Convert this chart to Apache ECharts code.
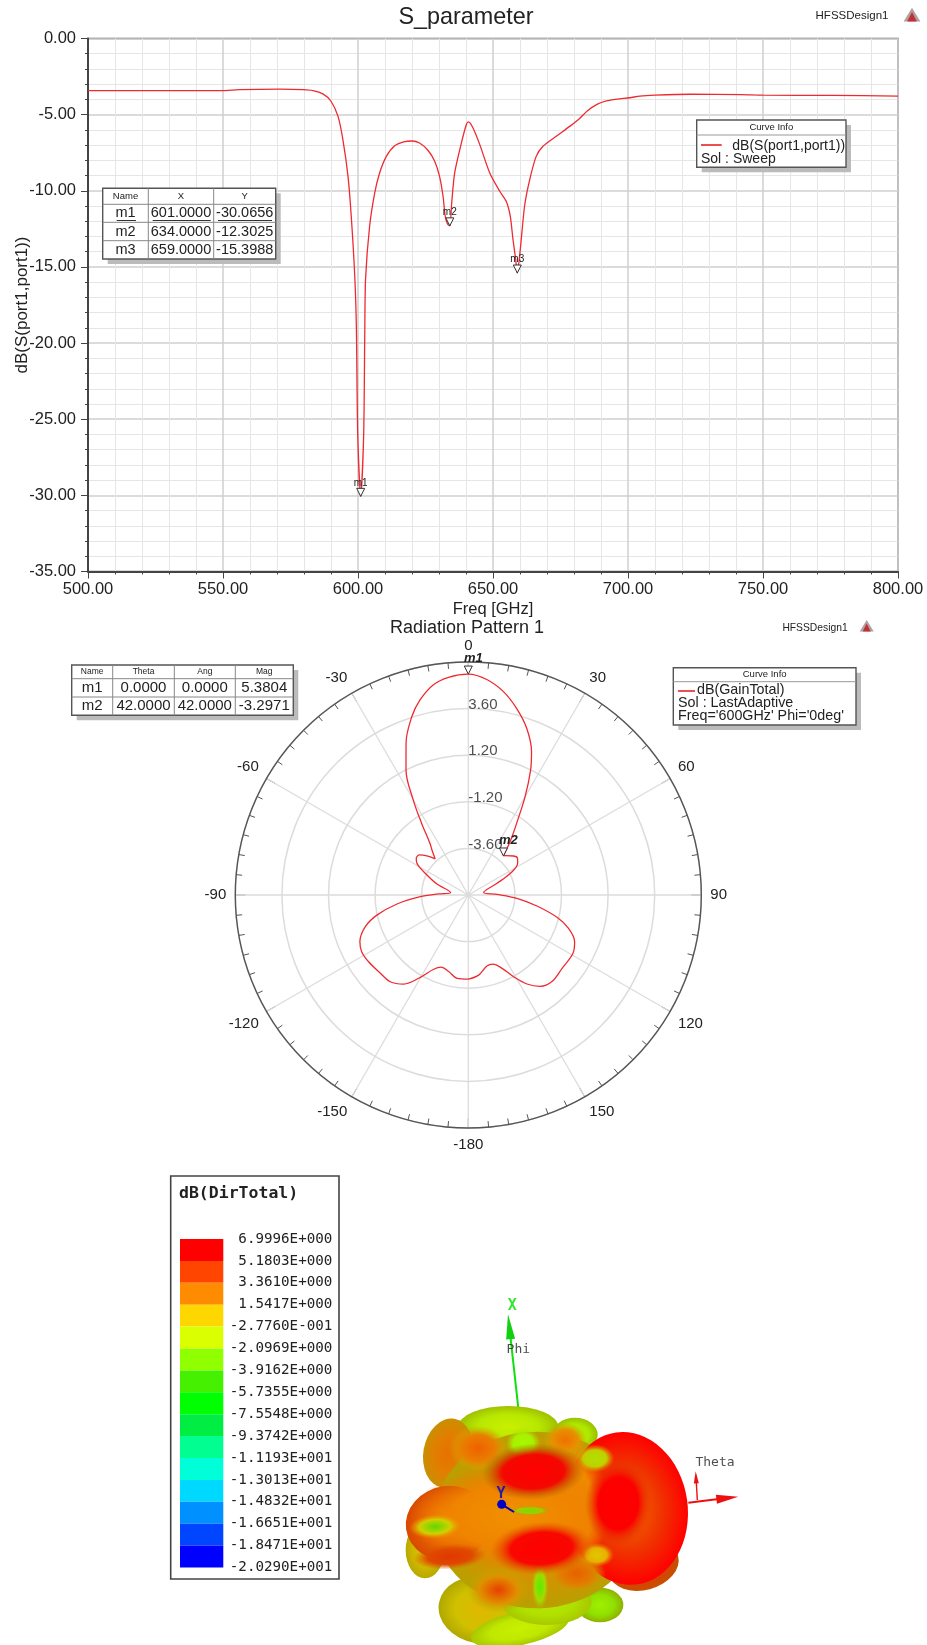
<!DOCTYPE html>
<html><head><meta charset="utf-8">
<style>html,body{margin:0;padding:0;background:#fff}#c{width:927px;height:1645px}</style>
<script src="https://cdn.jsdelivr.net/npm/echarts@6/dist/echarts.min.js"></script>
</head><body><div id="c"></div>
<script>
const sFreq=[500,525,550,556,571,579.6,583.3,587,590,592.6,594.4,596.3,597.5,598.8,599.4,599.9,601,602.1,602.5,602.8,604.3,606.2,608,610.5,613.6,617.3,620.1,622.8,625.9,628.4,630.2,631.5,632.3,633.2,634,634.7,635.8,638.3,640.1,640.9,642.6,645.1,648.8,652.5,654.9,656.4,657.4,658.4,659,660.1,661.7,663.6,666,668.5,673.4,678.4,681.9,685,688.5,692,696,700.7,704.4,710,723,742,750,775.9,800];
const sDb=[-3.42,-3.42,-3.42,-3.36,-3.33,-3.36,-3.42,-3.64,-4.12,-5.11,-6.64,-9.05,-11.67,-15.6,-19,-26,-30.07,-26,-19.5,-15.8,-12.33,-10.14,-8.83,-7.74,-7.04,-6.77,-6.73,-6.86,-7.34,-8.06,-9.05,-10.36,-11.67,-12.2,-12.3,-10.8,-8.83,-6.86,-5.66,-5.48,-5.88,-6.97,-8.83,-10.03,-10.69,-11.67,-13.2,-14.5,-15.4,-13.86,-11,-9.27,-7.74,-7.08,-6.42,-5.77,-5.28,-4.75,-4.33,-4.1,-3.98,-3.89,-3.78,-3.72,-3.66,-3.68,-3.72,-3.74,-3.78];
const sMarkers=[['m1',601,-30.0656],['m2',634,-12.3025],['m3',659,-15.3988]];
const patTheta=[-180,-172.3,-165.6,-159.4,-155,-149.8,-144,-138,-131.7,-123.8,-118,-113.3,-107.1,-102.4,-97.2,-92,-88,-82,-70.7,-63.3,-58.3,-54.8,-50.6,-46.7,-42.5,-38.9,-36.6,-33.1,-30.1,-26.5,-22.3,-17.6,-13.9,-9.5,-5.2,0,4.9,9.8,14.5,19.3,23.8,26.5,30,34,36.2,38.5,42,43.5,49.3,53.4,57.3,62.7,67.9,81,88.7,93.9,99.1,104.1,108.4,113.7,119.1,128,136,141.8,146.6,151,155.3,160.3,165.3,172.6,180];
const patDb=[-1.67,-1.67,-1.93,-2.03,-1.78,-1.09,-0.33,0.01,0.06,0.18,0.22,0.08,-0.45,-1.18,-2.3,-3.53,-4.47,-5.08,-4.29,-3.53,-2.89,-2.72,-2.75,-3.07,-3.47,-3.02,-2.69,-1.6,-0.35,1.19,2.45,3.63,4.35,4.97,5.26,5.38,5.14,4.63,3.93,3.1,2.07,1.19,-0.15,-1.55,-2.1,-2.6,-3.2971,-3.2,-2.92,-2.84,-2.98,-3.56,-4.4,-5.2,-4.52,-3.49,-2.42,-1.29,-0.56,-0.02,0.17,0.13,0.2,-0.01,-0.51,-1.19,-1.84,-2.22,-2.22,-1.84,-1.67];
const patMarkers=[['m1',0,5.3804],['m2',42,-3.2971]];
const ringTicks=[3.6,1.2,-1.2,-3.6];
const RADIAL_OFFSET=6;
const colorTicks=['6.9996E+000','5.1803E+000','3.3610E+000','1.5417E+000','-2.7760E-001','-2.0969E+000','-3.9162E+000','-5.7355E+000','-7.5548E+000','-9.3742E+000','-1.1193E+001','-1.3013E+001','-1.4832E+001','-1.6651E+001','-1.8471E+001','-2.0290E+001'];
const colorCells=['#ff0000','#ff4500','#ff8c00','#ffd700','#d9ff00','#90ff00','#45f000','#00ff00','#00ee44','#00ff90','#00ffd9','#00d9ff','#0090ff','#0045ff','#0000ff'];
// cx, cy, rx, ry, rotation, core, middle, edge colours
const blobLobes=[
[415,560,150,62,0,'#c8f000','#b8e800','#a0c000'],
[615,585,68,52,0,'#b0f000','#b0e800','#98c000'],
[235,640,75,105,10,'#e87000','#e08000','#c89000'],
[165,930,58,85,0,'#d8c000','#d0b800','#b8a800'],
[330,1110,125,100,10,'#e0b800','#d0c000','#b0a800'],
[450,1165,150,50,-12,'#c8f000','#c0e800','#a8c800'],
[690,1095,70,52,0,'#a0f000','#90e000','#90b000'],
[530,1085,135,70,0,'#b8e800','#b0e000','#a8c800'],
[820,975,108,75,-15,'#e05000','#d84000','#c85000'],
[500,840,310,265,0,'#e09000','#d89000','#b8a000'],
[770,805,183,230,-8,'#f07000','#f03000','#ff0000'],
[235,850,128,112,-8,'#f8a000','#e86000','#d84800'],
[600,800,110,215,0,'#f09000','#f08800','rgba(240,130,0,0)'],
[430,830,310,155,0,'#f09000','#f08400','rgba(235,120,0,0)'],
[240,950,110,38,-4,'#e03800','#e04800','rgba(220,90,0,0)'],
[325,625,88,68,0,'#f06000','#e88000','rgba(210,170,0,0)'],
[585,600,65,52,0,'#f07000','#e89000','rgba(200,170,0,0)'],
[385,1050,95,68,0,'#e84000','#e09000','rgba(190,170,0,0)'],
[620,1000,88,60,0,'#e86000','#e08000','rgba(200,160,0,0)'],
[460,610,52,46,0,'#a8f800','#a8f000','rgba(170,220,0,0)'],
[675,655,58,42,0,'#b0e000','#c0d000','rgba(220,160,0,0)'],
[510,1040,26,72,0,'#50f000','#a8d800','rgba(170,180,0,0)'],
[680,945,52,36,0,'#e0c800','#e8b000','rgba(220,140,0,0)'],
[195,860,78,36,-3,'#60d800','#d0d000','rgba(240,150,0,0)'],
[490,695,155,85,-3,'#ff0000','#f40800','rgba(150,110,0,0)'],
[515,925,155,80,-4,'#ff0000','#f80800','rgba(220,90,0,0)'],
[745,790,100,130,3,'#ff0000','#fc0000','rgba(220,60,0,0)'],
[480,812,62,15,0,'#70e000','#a8c800','rgba(180,150,0,0)']
];
const xAxisLine=[[445,505],[418,260]];
const zAxisLine=[[955,788],[1070,774]];
const thetaLine=[[982,780],[978,710]];
const yAxisLine=[[395,793],[432,816]];
// x, y, rotation, width, length, colour
const arrowHeads=[[418,260,6,9,25,'#10d010'],[1072,774,-83,9,22,'#ee1010'],[978,712,3,5,12,'#ee1010']];
const triadLabels=[['X',427,198,'#00e000',true],['Phi',445,328,'#222',false],['Theta',1035,668,'#222',false],['Y',393,762,'#0000c8',true]];

const F='"Liberation Sans",Arial,sans-serif', M='"DejaVu Sans Mono",monospace';
const g=[];
function txt(x,y,s,size,o){g.push({type:'text',x,y,z:(o&&o.z)||110,style:Object.assign({text:s,fontFamily:F,fontSize:size,fill:'#222',align:'center',verticalAlign:'middle'},o||{})});}
function rect(x,y,w,h,fill,stroke,lw,z){g.push({type:'rect',shape:{x,y,width:w,height:h},z:z==null?100:z,style:{fill,stroke:stroke||null,lineWidth:lw||0}});}
function line(x1,y1,x2,y2,c,w,z){g.push({type:'line',shape:{x1,y1,x2,y2},z:z==null?105:z,style:{stroke:c,lineWidth:w||1}});}
function table(cols,rows,header,body,hs,bs){
  const l=cols[0],r=cols[cols.length-1],t=rows[0],b=rows[rows.length-1];
  rect(l+5,t+5,r-l,b-t,'#bbb',null,0,98);rect(l,t,r-l,b-t,'#fff','#555',1.4,100);
  cols.slice(1,-1).forEach(x=>line(x,t,x,b,'#888',1));rows.slice(1,-1).forEach(y=>line(l,y,r,y,'#888',1));
  header.forEach((h,i)=>txt((cols[i]+cols[i+1])/2,(rows[0]+rows[1])/2,h,hs));
  body.forEach((row,j)=>row.forEach((c,i)=>txt((cols[i]+cols[i+1])/2,(rows[j+1]+rows[j+2])/2,c,bs)));
}
table([102.7,148.3,213.7,275.7],[188.3,204.3,222.3,240.7,259],['Name','X','Y'],[['m1','601.0000','-30.0656'],['m2','634.0000','-12.3025'],['m3','659.0000','-15.3988']],9.5,14.5);
line(116.7,220.5,136,220.5,'#333',1,106);line(152.7,220.5,210.7,220.5,'#333',1,106);line(218,220.5,272,220.5,'#333',1,106);
table([71.7,112.7,174.3,235.3,293.3],[665,678.7,697,715.3],['Name','Theta','Ang','Mag'],[['m1','0.0000','0.0000','5.3804'],['m2','42.0000','42.0000','-3.2971']],8.5,15);
function infoBox(l,t,r,b,div,lines,size,lx1,lx2,ly){
  rect(l+5,t+5,r-l,b-t,'#bbb',null,0,98);rect(l,t,r-l,b-t,'#fff','#555',1.4,100);line(l,div,r,div,'#999',1);
  txt((l+r)/2,(t+div)/2,'Curve Info',9.5);line(lx1,ly,lx2,ly,'#e8222a',1.6);
  lines.forEach(a=>txt(a[0],a[1],a[2],size,{align:'left'}));
}
infoBox(696.7,120,846,167.3,135,[[732.3,146,'dB(S(port1,port1))'],[701,159.5,'Sol : Sweep']],14,701,721.7,145);
infoBox(673.3,667.7,856,725,681.7,[[697,690,'dB(GainTotal)'],[678,703,'Sol : LastAdaptive'],[678,716.5,"Freq='600GHz' Phi='0deg'"]],14.3,678,695,691);
txt(466,18,'S_parameter',23.4,{z:5});
txt(467,628,'Radiation Pattern 1',18,{z:5});
txt(852,16,'HFSSDesign1',11.5,{z:5});
txt(815,628,'HFSSDesign1',10.3,{z:5});
function logo(cx,cy,s){
  g.push({type:'polygon',z:5,shape:{points:[[cx,cy-s*.6],[cx+s*.7,cy+s*.55],[cx-s*.7,cy+s*.55]]},style:{fill:'#b0a0a0'}});
  g.push({type:'polygon',z:6,shape:{points:[[cx,cy-s*.25],[cx+s*.4,cy+s*.55],[cx-s*.4,cy+s*.55]]},style:{fill:'#c03038'}});
}
logo(912,15,12);logo(866.7,626,10);
rect(170.7,1176,168.3,403,'#fff','#444',1.6,0);
txt(179,1194,'dB(DirTotal)',16.5,{align:'left',fontFamily:M,fontWeight:'bold',z:1});

const chart=echarts.init(document.getElementById('c'),null,{renderer:'canvas'});
const lobeSeries={type:'custom',xAxisIndex:2,yAxisIndex:2,coordinateSystem:'cartesian2d',clip:false,silent:true,z:3,
  data:blobLobes.map(l=>l.slice(0,5)),
  renderItem:function(p,api){
    const a=blobLobes[p.dataIndex],c=api.coord([a[0],a[1]]),e=api.coord([a[0]+a[2],a[1]+a[3]]);
    const rx=Math.abs(e[0]-c[0]),ry=Math.abs(e[1]-c[1]);
    return {type:'circle',x:c[0],y:c[1],scaleX:rx/100,scaleY:ry/100,rotation:-a[4]*Math.PI/180,shape:{cx:0,cy:0,r:100},
      style:{fill:{type:'radial',x:.5,y:.5,r:.5,colorStops:[{offset:0,color:a[5]},{offset:.6,color:a[6]},{offset:1,color:a[7]}]}}};
  }};
const triadLine=(pts,color,w,z)=>({type:'line',xAxisIndex:2,yAxisIndex:2,data:pts,symbol:'none',silent:true,z:z||2,lineStyle:{color,width:w}});
const option={animation:false,backgroundColor:'#fff',textStyle:{fontFamily:F},graphic:{elements:g},
grid:[
 {left:88,top:38.5,width:810,height:533,show:true,borderColor:'#666',borderWidth:1.4,backgroundColor:'#fff',outerBoundsMode:'none',containLabel:false},
 {left:180,top:1239,width:43.3,height:328.5,show:false,outerBoundsMode:'none'},
 {left:370,top:1240,width:370,height:405,show:false,outerBoundsMode:'none'}
],
xAxis:[
 {gridIndex:0,type:'value',min:500,max:800,interval:50,name:'Freq [GHz]',nameLocation:'middle',nameGap:29,nameTextStyle:{fontSize:16.5,color:'#222',fontFamily:F},
  axisLine:{show:true,onZero:false,lineStyle:{color:'#444',width:2}},axisTick:{show:true,length:7,lineStyle:{color:'#444'}},minorTick:{show:true,splitNumber:5,length:3,lineStyle:{color:'#444'}},
  axisLabel:{fontSize:16.5,color:'#222',margin:9,formatter:v=>v.toFixed(2)},
  splitLine:{show:true,lineStyle:{color:'#cfcfcf',width:1.5}},minorSplitLine:{show:true,lineStyle:{color:'#e6e6e6',width:1}}},
 {gridIndex:1,type:'category',data:['c'],show:false},
 {gridIndex:2,type:'value',min:0,max:1110,show:false}
],
yAxis:[
 {gridIndex:0,type:'value',min:-35,max:0,interval:5,name:'dB(S(port1,port1))',nameLocation:'middle',nameGap:57,nameMoveOverlap:false,nameTextStyle:{fontSize:17,color:'#222',fontFamily:F},
  axisLine:{show:true,onZero:false,lineStyle:{color:'#444',width:2}},axisTick:{show:true,length:7,lineStyle:{color:'#444'}},minorTick:{show:true,splitNumber:5,length:3,lineStyle:{color:'#444'}},
  axisLabel:{fontSize:16.5,color:'#222',margin:12,formatter:v=>v.toFixed(2)},
  splitLine:{show:true,lineStyle:{color:'#cfcfcf',width:1.5}},minorSplitLine:{show:true,lineStyle:{color:'#e6e6e6',width:1}}},
 {gridIndex:1,type:'value',min:0,max:15,interval:1,inverse:true,position:'right',axisLine:{show:false},axisTick:{show:false},splitLine:{show:false},
  axisLabel:{fontFamily:M,fontSize:14.2,color:'#222',align:'right',margin:109,formatter:v=>colorTicks[v]}},
 {gridIndex:2,type:'value',min:0,max:1215,inverse:true,show:false}
],
polar:{center:[468.3,895],radius:233},
angleAxis:{type:'value',min:-180,max:180,interval:30,startAngle:-90,clockwise:true,
  axisLine:{show:true,lineStyle:{color:'#555',width:1.4}},axisTick:{show:true,inside:true,length:10,lineStyle:{color:'#555'}},minorTick:{show:true,splitNumber:6,length:6,lineStyle:{color:'#555'}},
  axisLabel:{fontSize:15,color:'#222',margin:9,formatter:v=>v===180?'':String(v)},splitLine:{show:true,lineStyle:{color:'#dcdcdc',width:1.3}}},
radiusAxis:{type:'value',min:0,max:12,interval:2.4,axisLine:{show:false},axisTick:{show:false},axisLabel:{show:false},
  splitLine:{show:true,lineStyle:{color:'#dcdcdc',width:1.5}}},
series:[
 {type:'line',xAxisIndex:0,yAxisIndex:0,data:sFreq.map((f,i)=>[f,sDb[i]]),showSymbol:false,symbol:'none',smooth:0.25,lineStyle:{color:'#ee2a30',width:1.3},z:4},
 {type:'scatter',xAxisIndex:0,yAxisIndex:0,data:sMarkers.map(m=>({value:[m[1],m[2]],name:m[0]})),symbol:'triangle',symbolRotate:180,symbolSize:8,symbolOffset:[0,-4],
  itemStyle:{color:'#fff',borderColor:'#333',borderWidth:1,opacity:1},label:{show:true,position:'top',distance:0,fontSize:10,color:'#222',formatter:p=>p.name},z:5},
 {type:'line',coordinateSystem:'polar',data:patTheta.map((t,i)=>[patDb[i]+RADIAL_OFFSET,t]),showSymbol:false,symbol:'none',smooth:0.35,lineStyle:{color:'#ee2a30',width:1.3},z:4},
 {type:'scatter',coordinateSystem:'polar',symbolSize:0,silent:true,z:6,data:ringTicks.map(v=>[v+RADIAL_OFFSET,0]),
  label:{show:true,position:'right',distance:0,offset:[0,-4],fontSize:15,color:'#222',formatter:p=>(p.value[0]-RADIAL_OFFSET).toFixed(2)}},
 {type:'scatter',coordinateSystem:'polar',data:patMarkers.map(m=>({value:[m[2]+RADIAL_OFFSET,m[1]],name:m[0]})),symbol:'triangle',symbolRotate:180,symbolSize:8,symbolOffset:[0,-4],
  itemStyle:{color:'#fff',borderColor:'#333',borderWidth:1,opacity:1},label:{show:true,position:'top',distance:1,offset:[5,0],fontSize:13,fontStyle:'italic',fontWeight:'bold',color:'#222',formatter:p=>p.name},z:7},
 ...colorCells.map(c=>({type:'bar',xAxisIndex:1,yAxisIndex:1,stack:'cb',barWidth:'100%',silent:true,data:[1],itemStyle:{color:c},z:3})),
 triadLine(xAxisLine,'#10e010',2),
 triadLine(zAxisLine,'#ee1010',2),
 triadLine(thetaLine,'#ee1010',1.4),
 {type:'scatter',xAxisIndex:2,yAxisIndex:2,silent:true,z:2,data:arrowHeads.map(a=>({value:[a[0],a[1]],symbol:'triangle',symbolRotate:a[2],symbolSize:[a[3],a[4]],itemStyle:{color:a[5],opacity:1}}))},
 lobeSeries,
 {type:'line',xAxisIndex:2,yAxisIndex:2,data:yAxisLine,symbol:'none',lineStyle:{color:'#0000b0',width:2},z:5,silent:true},
 {type:'scatter',xAxisIndex:2,yAxisIndex:2,data:[yAxisLine[0]],symbolSize:9,itemStyle:{color:'#0000c8',opacity:1},z:6,silent:true},
 {type:'scatter',xAxisIndex:2,yAxisIndex:2,symbolSize:0,z:7,silent:true,data:triadLabels.map(t=>({value:[t[1],t[2]],label:{show:true,position:'inside',formatter:t[0],fontFamily:M,fontSize:t[4]?15:13,fontWeight:t[4]?'bold':'normal',color:t[3]}}))}
]};
chart.setOption(option);
</script></body></html>
